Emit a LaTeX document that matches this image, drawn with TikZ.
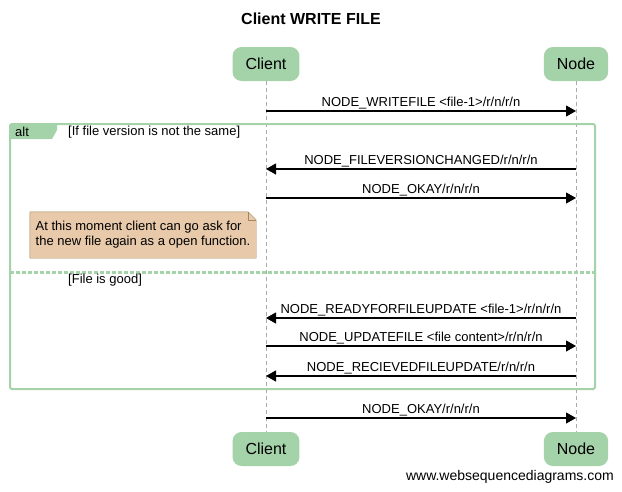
\documentclass[tikz,border=0pt]{standalone}
\usepackage{fontspec}
\setmainfont{Liberation Sans}
\usetikzlibrary{arrows.meta,calc,backgrounds}

\definecolor{actorgreen}{HTML}{A4D2A9}
\definecolor{notefill}{HTML}{E8CAAA}
\definecolor{notedraw}{HTML}{A4865C}
\definecolor{lifegray}{HTML}{AAAAAA}

\begin{document}
\begin{tikzpicture}[x=1pt,y=-1pt,
    actor/.style={fill=actorgreen, rounded corners=9pt, inner xsep=13pt, minimum height=34pt, font=\fontsize{16}{18}\selectfont},
    life/.style={lifegray, thin, dash pattern=on 4pt off 3pt},
    msg/.style={line width=1.1pt, -{Triangle[length=10pt,width=11pt]}},
    lbl/.style={above, inner sep=1.5pt, font=\fontsize{13}{15}\selectfont},
    txt/.style={anchor=west, inner sep=0pt, font=\fontsize{13}{15}\selectfont},
    frame/.style={actorgreen, line width=2pt}]

    \useasboundingbox (0,0) rectangle (622,491);

    \node[font=\fontsize{16}{18}\selectfont\bfseries] (title) at (311,19) {Client WRITE FILE};

    \node[actor] (cT) at (266,64) {Client};
    \node[actor] (nT) at (576,64) {Node};
    \node[actor] (cB) at (266,449) {Client};
    \node[actor] (nB) at (576,449) {Node};

    \draw[life] (cT) -- (cB);
    \draw[life] (nT) -- (nB);

    % alt frame
    \draw[frame, rounded corners=1.5pt] (10,124) rectangle (595,389);
    \fill[actorgreen] (10,124) -- (57,124) -- (57,130) -- (52,139) -- (10,139) -- cycle;
    \node[txt] (alt) at (15,132) {alt};
    \node[txt] (cond1) at (68,132) {[If file version is not the same]};
    \draw[frame, line width=3pt, dash pattern=on 4pt off 2pt] (10,272) -- (595,272);
    \node[txt] (cond2) at (68,280) {[File is good]};

    % messages
    \coordinate (c1) at (cT |- 0,111); \coordinate (n1) at (nT |- 0,111);
    \coordinate (c2) at (cT |- 0,169); \coordinate (n2) at (nT |- 0,169);
    \coordinate (c3) at (cT |- 0,198); \coordinate (n3) at (nT |- 0,198);
    \coordinate (c4) at (cT |- 0,318); \coordinate (n4) at (nT |- 0,318);
    \coordinate (c5) at (cT |- 0,346); \coordinate (n5) at (nT |- 0,346);
    \coordinate (c6) at (cT |- 0,376); \coordinate (n6) at (nT |- 0,376);
    \coordinate (c7) at (cT |- 0,418); \coordinate (n7) at (nT |- 0,418);

    \draw[msg] (c1) -- node[lbl] {NODE\_WRITEFILE <file-1>/r/n/r/n} (n1);
    \draw[msg] (n2) -- node[lbl] {NODE\_FILEVERSIONCHANGED/r/n/r/n} (c2);
    \draw[msg] (c3) -- node[lbl] {NODE\_OKAY/r/n/r/n} (n3);
    \draw[msg] (n4) -- node[lbl] {NODE\_READYFORFILEUPDATE <file-1>/r/n/r/n} (c4);
    \draw[msg] (c5) -- node[lbl] {NODE\_UPDATEFILE <file content>/r/n/r/n} (n5);
    \draw[msg] (n6) -- node[lbl] {NODE\_RECIEVEDFILEUPDATE/r/n/r/n} (c6);
    \draw[msg] (c7) -- node[lbl] {NODE\_OKAY/r/n/r/n} (n7);

    % note
    \node[minimum width=226pt, minimum height=46pt, align=left, font=\fontsize{13}{15}\selectfont] (note) at (143,235)
        {At this moment client can go ask for\\the new file again as a open function.};
    \begin{scope}[on background layer]
    \draw[notedraw, fill=notefill] (note.north west) -- ($(note.north east)+(-8,0)$) -- ($(note.north east)+(0,8)$)
        -- (note.south east) -- (note.south west) -- cycle;
    \draw[notedraw] ($(note.north east)+(-8,0)$) -- ($(note.north east)+(-8,8)$) -- ($(note.north east)+(0,8)$);
    \end{scope}

    \node[anchor=east, inner sep=0pt, font=\fontsize{14}{16}\selectfont] (site) at (614,477) {www.websequencediagrams.com};

\end{tikzpicture}
\end{document}
